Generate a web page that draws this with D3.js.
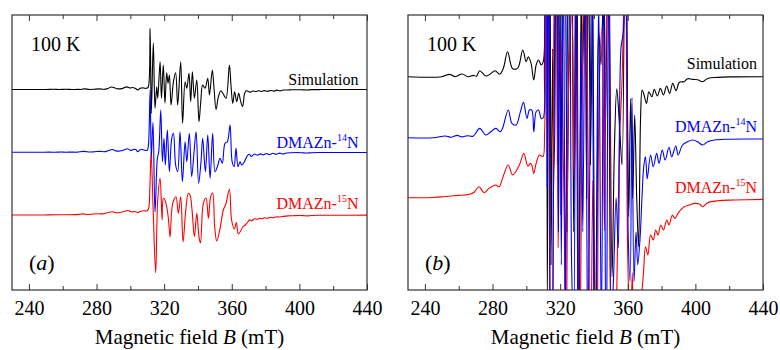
<!DOCTYPE html>
<html>
<head>
<meta charset="utf-8">
<script src="https://cdn.jsdelivr.net/npm/d3@7"></script>
<style>
  body { margin: 0; background: #fff; }
  svg { display: block; }
  text { font-family: "Liberation Serif", "Times New Roman", serif; }
</style>
</head>
<body>
<svg id="chart" width="780" height="350"></svg>
<script>
// EPR spectra at 100 K: simulated and measured (14N / 15N labelled DMAZn)
// Field in mT, intensity in arbitrary units (first-derivative signal).

const fieldSim = [230, 250, 254.5, 258, 262, 265.5, 268.6, 270.5, 272.4, 276, 278.5, 281.5, 284.3, 286.5, 288.9, 291.9, 294.9, 297.9, 299.9, 301.2, 302.8, 304.4, 305.8, 307.2, 308.8, 310.0, 310.7, 311.7, 312.4, 313.6, 314.6, 315.6, 316.2, 317.6, 318.4, 319.5, 320.5, 321.5, 322.3, 323.1, 324.1, 325.5, 326.8, 328.0, 329.8, 330.9, 332.4, 333.4, 334.7, 335.7, 336.7, 337.9, 339.3, 340.6, 341.6, 342.8, 344.2, 345.8, 346.8, 348.5, 349.5, 350.7, 352.1, 353.5, 355.0, 356.6, 358.6, 359.6, 360.6, 361.7, 362.9, 364.1, 365.3, 366.4, 367.6, 368.5, 369.6, 371.1, 372.5, 374.3, 375.7, 377.5, 379.3, 381.1, 383.0, 384.8, 386.6, 388.6, 390.5, 393.4, 395.4, 398.4, 401.3, 404.3, 407.3, 413.3, 420, 440];
const simulation = [0, 0, 0.23, 0.0, 0.27, 0.0, 0.13, 0.05, 0.6, 0.07, 0.25, 0.6, 0.25, 0.9, 2.5, 0.8, 0.85, 2.67, 1.5, 2.0, 1.33, -0.33, 1.17, 1.67, 1.17, 1.5, 2.8, 61.2, -24, 46.8, -18.8, 2.8, -8.8, 27.8, -8.8, 24.5, -13.8, 16.8, 6.2, 14.5, -15.5, 7.8, 16.8, -15.5, 27.8, -33.8, 7.8, 1.2, 16.2, -12.2, 17.8, -8.8, 9.5, -32.2, -13.8, 4.5, 1.2, 11.2, -5.5, 19.5, 1.2, -20, -7.2, -1.2, -4.5, -8.8, 24.5, 2.8, -14, -2.2, -12.2, -3.8, -12.2, -17, -4, -1.33, -1.8, -2.67, -1.5, -2.0, -1.27, -1.93, -1.17, -1.83, -0.93, -1.67, -0.67, -1.4, -0.55, -0.5, -0.2, -0.27, -0.3, -0.5, -0.17, -0.07, -0.02, 0];

const field14N = [230, 245, 252.1, 255.5, 259.1, 262, 265, 268.5, 272.4, 276, 279, 281.9, 284.5, 285.9, 289.3, 291.5, 293.9, 296.5, 298.3, 300.4, 301.8, 303.2, 304.4, 305.8, 307.2, 308.8, 310.0, 310.7, 311.7, 312.4, 313.4, 314.6, 316.0, 316.8, 318.0, 319.0, 319.9, 320.7, 321.9, 323.1, 324.5, 325.5, 326.8, 328.0, 329.4, 330.8, 332.4, 333.4, 334.9, 336.3, 337.7, 338.9, 340.4, 341.8, 342.8, 344.4, 345.8, 347.2, 348.7, 350.1, 351.5, 353.1, 354.4, 356.0, 357.4, 359.0, 360.2, 361.4, 362.5, 363.7, 364.9, 365.9, 367.3, 368.4, 369.5, 370.5, 371.5, 373.5, 375.1, 377.1, 378.5, 380.4, 382.1, 384.4, 386.0, 388.4, 389.8, 392.4, 395.4, 398.4, 401.3, 404.3, 407.3, 411.3, 417.3, 440];
const dmazn14N = [0, 0, 0.17, 0.05, 0.23, 0.08, 0.2, 0.15, 0.93, 0.27, 0.6, 0.93, 0.6, 0.93, 2.77, 1.43, 1.27, 2.6, 3.53, 1.93, 2.77, 2.77, 0.6, 2.6, 2.77, 1.93, 2.0, 7.3, 62, -5, 30, -60, -6, 0.6, 42.3, -9.4, 14, -12.7, 22.3, -19.4, 14, 19, -12.7, -19.4, 20.6, -29.4, 10.6, -9.4, 19, -24.4, 0.6, 20.6, -31, -9.4, 14, -19.4, 17.3, -26, 19, -19.4, -14.4, -6, -11, 9, 10.6, 27.3, -9.4, -14.4, 4, -14.4, -9.4, -12.7, -10, -6, -2.8, -1.9, -4.1, -1.73, -2.9, -1.57, -2.57, -1.23, -2.23, -0.96, -1.9, -0.83, -1.73, -0.73, -0.4, -0.23, -0.4, -0.73, -0.4, -0.23, -0.15, -0.13];

const field15N = [230, 245, 251.1, 257.1, 263, 267, 269.4, 272, 275, 277.9, 281.9, 283.9, 285.9, 289.3, 291.9, 295.9, 298.5, 300.9, 302.4, 303.2, 304.4, 305.8, 307.8, 309.8, 310.8, 311.6, 312.3, 313.5, 315.0, 316.2, 317.6, 318.8, 319.5, 320.5, 321.5, 322.5, 323.5, 324.5, 325.5, 327.0, 328.4, 329.8, 331.2, 332.8, 334.3, 335.3, 336.5, 337.9, 339.3, 340.6, 341.5, 343.2, 344.8, 346.2, 347.5, 348.7, 349.9, 351.1, 353.1, 355.0, 356.6, 358.6, 359.9, 361.5, 362.7, 363.9, 365.3, 366.5, 368.0, 369.3, 370.5, 371.9, 373.5, 375.1, 376.5, 377.9, 379.5, 381.1, 383.1, 384.4, 386.4, 387.8, 390.4, 393.4, 396.4, 399.4, 402.4, 404.3, 407.3, 413.3, 423.2, 440];
const dmazn15N = [0, 0.02, 0.1, 0.2, 0.27, 0.37, 0.6, 1.1, 0.5, 0.93, 1.27, 1.1, 1.93, 3.27, 2.27, 3.27, 4.43, 3.17, 3.43, 3.27, 2.43, 3.43, 4.27, 4.1, 6.5, 30, 63, 5, -57.7, 15, 36.7, -5, 16.7, 15, 8.3, -3.3, -22, 5, 14, 18.3, 1.7, 18.3, -27, 5, 21.7, 20, 5, -21.7, 1.7, -21.7, -28, 11.7, 17, -3.3, 18.3, 22, -11.7, -26, -13.3, 5, 11.7, 25.7, -5, -14, -7.5, -19, -15.8, -12, -10, -7.5, -4.9, -5.73, -3.73, -4.23, -3.23, -3.73, -2.73, -3.23, -2.23, -2.73, -1.73, -2.07, -1.4, -0.9, -0.73, -0.57, -0.63, -0.9, -0.5, -0.3, -0.23, -0.17];

const majorTicks = [240, 280, 320, 360, 400, 440];
const minorTicks = [260, 300, 340, 380, 420];
const seriesNames = ["Simulation", "DMAZn-", "DMAZn-"];
const isotopes = ["", "14", "15"];
const seriesColors = ["#000000", "#0000ff", "#ff0000"];
const panelTags = ["a", "b"];

const series = [
  { field: fieldSim, values: simulation },
  { field: field14N, values: dmazn14N },
  { field: field15N, values: dmazn15N }
];

const svg = d3.select("#chart");
const plotTop = 15, plotBottom = 290;

// Panel (b) is the same data magnified tenfold about each trace's baseline.
const panels = [
  { x0: 12,  x1: 367, yDomain: [-200.5, 74.5], offsets: [0, -62.8, -125.5], labelY: [85, 148, 208.5], labelRight: 358.5 },
  { x0: 408, x1: 763, yDomain: [-21.33, 6.17], offsets: [0, -6.1, -12.1],   labelY: [69, 131.5, 192.5], labelRight: 757 }
];

panels.forEach((p, pi) => {
  const x = d3.scaleLinear().domain([230, 440]).range([p.x0, p.x1]);
  const y = d3.scaleLinear().domain(p.yDomain).range([plotBottom, plotTop]);
  const g = svg.append("g");

  const clipId = "clip" + pi;
  svg.append("clipPath").attr("id", clipId)
    .append("rect").attr("x", p.x0).attr("y", plotTop)
    .attr("width", p.x1 - p.x0).attr("height", plotBottom - plotTop);

  const plot = g.append("g").attr("clip-path", `url(#${clipId})`);
  // draw order: simulation, 15N, 14N
  [0, 2, 1].forEach(si => {
    const s = series[si];
    const pts = s.field.map((f, i) => [f, s.values[i] + p.offsets[si]]);
    const line = d3.line()
      .x(d => x(d[0]))
      .y(d => y(d[1]))
      .curve(d3.curveCatmullRom.alpha(0.5));
    plot.append("path")
      .attr("d", line(pts))
      .attr("fill", "none")
      .attr("stroke", seriesColors[si])
      .attr("stroke-width", 1.1)
      .attr("stroke-linejoin", "round");
  });

  // ticks (inward) on bottom and top
  const axB = g.append("g").attr("transform", `translate(0,${plotBottom})`)
    .call(d3.axisBottom(x).tickValues(majorTicks).tickSize(-6).tickPadding(11).tickFormat(d3.format("d")));
  axB.selectAll("text").attr("font-size", 20).attr("fill", "#000")
    .style("font-family", '"Liberation Serif", serif');
  const axBm = g.append("g").attr("transform", `translate(0,${plotBottom})`)
    .call(d3.axisBottom(x).tickValues(minorTicks).tickSize(-4).tickFormat(""));
  const axT = g.append("g").attr("transform", `translate(0,${plotTop})`)
    .call(d3.axisTop(x).tickValues(majorTicks).tickSize(-6).tickFormat(""));
  const axTm = g.append("g").attr("transform", `translate(0,${plotTop})`)
    .call(d3.axisTop(x).tickValues(minorTicks).tickSize(-4).tickFormat(""));
  [axB, axBm, axT, axTm].forEach(a => {
    a.select(".domain").remove();
    a.selectAll("line").attr("stroke", "#333").attr("stroke-width", 1);
  });

  // frame
  g.append("rect")
    .attr("x", p.x0).attr("y", plotTop)
    .attr("width", p.x1 - p.x0).attr("height", plotBottom - plotTop)
    .attr("fill", "none").attr("stroke", "#333").attr("stroke-width", 1.2);

  // axis title
  const title = g.append("text")
    .attr("x", (p.x0 + p.x1) / 2).attr("y", 344)
    .attr("text-anchor", "middle").attr("font-size", 21);
  title.append("tspan").text("Magnetic field ");
  title.append("tspan").attr("font-style", "italic").text("B");
  title.append("tspan").text(" (mT)");

  // temperature
  g.append("text").attr("x", p.x0 + 19).attr("y", 51)
    .attr("font-size", 20).text("100 K");

  // panel tag
  const tag = g.append("text").attr("x", p.x0 + 17).attr("y", 270).attr("font-size", 22);
  tag.append("tspan").text("(");
  tag.append("tspan").attr("font-style", "italic").text(panelTags[pi]);
  tag.append("tspan").text(")");

  // series labels
  seriesNames.forEach((name, si) => {
    const t = g.append("text")
      .attr("x", p.labelRight).attr("y", p.labelY[si])
      .attr("text-anchor", "end").attr("font-size", 16)
      .attr("fill", seriesColors[si]);
    t.append("tspan").text(name);
    if (isotopes[si]) {
      t.append("tspan").attr("font-size", 10).attr("dy", -7).text(isotopes[si]);
      t.append("tspan").attr("dy", 7).text("N");
    }
  });
});
</script>
</body>
</html>
